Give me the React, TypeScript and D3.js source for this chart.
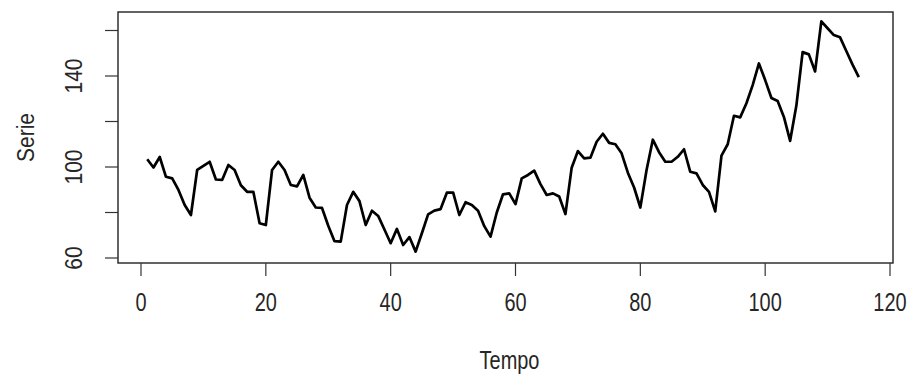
import React from "react";
import * as d3 from "d3";

const tempo: number[] = Array.from({ length: 115 }, (_, i) => i + 1);
const serie: number[] = [
  103.4, 99.8, 104.4, 95.7, 95.0, 89.9, 83.3, 78.9, 98.7, 100.5,
  102.3, 94.5, 94.3, 100.9, 98.7, 92.0, 89.1, 89.1, 75.3, 74.5,
  98.7, 102.3, 98.7, 92.1, 91.5, 96.5, 86.5, 82.2, 82.0, 74.2,
  67.4, 67.2, 83.3, 89.1, 85.0, 74.5, 80.8, 78.5, 72.5, 66.5,
  72.8, 65.7, 69.2, 62.8, 70.9, 79.2, 80.8, 81.5, 88.7, 88.8,
  78.9, 84.5, 83.3, 80.8, 74.0, 69.4, 80.0, 88.0, 88.4, 83.7,
  95.0, 96.5, 98.4, 92.5, 87.7, 88.4, 87.0, 79.3, 99.7, 107.0,
  103.8, 104.1, 111.1, 114.6, 110.6, 110.0, 106.0, 97.5, 91.0, 82.2,
  98.7, 112.0, 106.5, 102.3, 102.3, 104.5, 107.8, 97.9, 97.2, 92.1,
  89.1, 80.5, 105.0, 110.0, 122.5, 121.8, 128.0, 136.0, 145.5, 138.2,
  130.3, 129.0, 122.0, 111.5, 127.0, 150.5, 149.5, 142.0, 164.0, 161.0,
  158.0, 157.0, 151.0, 145.0, 139.5,
];
const xTicks: number[] = [0, 20, 40, 60, 80, 100, 120];
const yTicks: number[] = [60, 80, 100, 120, 140, 160];
const yTickLabels: number[] = [60, 100, 140];
const xTitle = "Tempo";
const yTitle = "Serie";

export default function App() {
  const W = 908;
  const H = 383;
  const box = { left: 118, right: 893, top: 12, bottom: 263 };
  const x = d3.scaleLinear().domain([0, 120]).range([141, 890]);
  const y = d3.scaleLinear().domain([60, 160]).range([258, 30.5]);
  const line = d3
    .line<number>()
    .x((_, i) => x(tempo[i]))
    .y((d) => y(d));
  const font = "'Liberation Sans', Arial, sans-serif";
  const txt = "#262626";
  const fs = 21;
  return (
    <svg
      width={W}
      height={H}
      style={{ position: "absolute", left: 0, top: 0, background: "#fff" }}
      fontFamily={font}
    >
      <rect x={0} y={0} width={W} height={H} fill="#fff" />
      <rect
        x={box.left}
        y={box.top}
        width={box.right - box.left}
        height={box.bottom - box.top}
        fill="none"
        stroke="#222"
        strokeWidth={1.4}
      />
      {xTicks.map((t) => (
        <g key={"xt" + t}>
          <line x1={x(t)} x2={x(t)} y1={box.bottom} y2={box.bottom + 13} stroke="#333" strokeWidth={1.2} />
          <text
            transform={`translate(${x(t)},311) scale(0.95,1.25)`}
            textAnchor="middle"
            fontSize={fs}
            fill={txt}
          >
            {t}
          </text>
        </g>
      ))}
      {yTicks.map((t) => (
        <line key={"yt" + t} x1={box.left - 13} x2={box.left} y1={y(t)} y2={y(t)} stroke="#333" strokeWidth={1.2} />
      ))}
      {yTickLabels.map((t) => (
        <text
          key={"yl" + t}
          transform={`translate(82,${y(t)}) scale(1.1,1) rotate(-90)`}
          textAnchor="middle"
          fontSize={fs}
          fill={txt}
        >
          {t}
        </text>
      ))}
      <text
        transform={`translate(${(box.left + box.right) / 2 + 4},369) scale(0.95,1.2)`}
        textAnchor="middle"
        fontSize={fs}
        fill={txt}
      >
        {xTitle}
      </text>
      <text
        transform={`translate(34,${(box.top + box.bottom) / 2}) scale(1.1,1) rotate(-90)`}
        textAnchor="middle"
        fontSize={fs}
        fill={txt}
      >
        {yTitle}
      </text>
      <path d={line(serie) || ""} fill="none" stroke="#000" strokeWidth={2.7} strokeLinejoin="round" />
    </svg>
  );
}
